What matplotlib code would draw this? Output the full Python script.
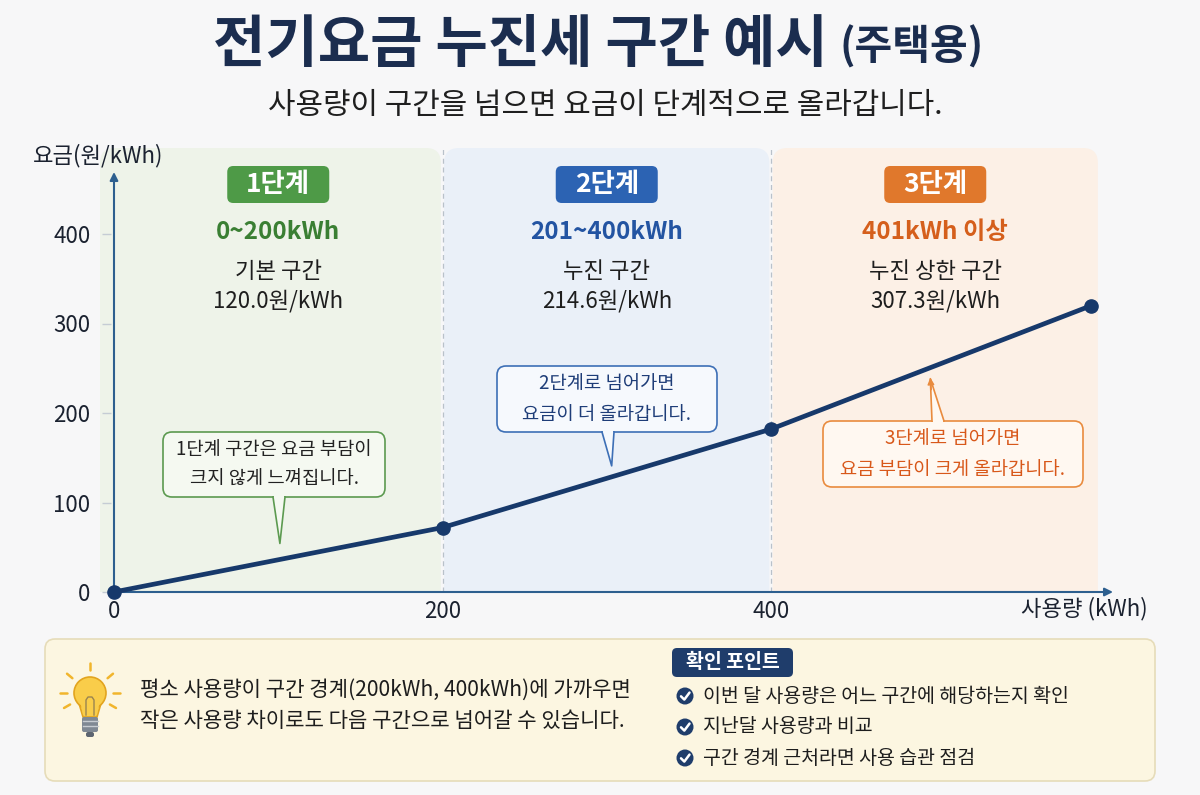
import matplotlib
matplotlib.use('Agg')
import matplotlib.pyplot as plt
from matplotlib.patches import FancyBboxPatch, Polygon, Circle, Rectangle
from matplotlib.lines import Line2D
import numpy as np

plt.rcParams['font.family'] = ['Noto Sans CJK KR', 'DejaVu Sans']

# ---------------- data ----------------
usage = [0, 200, 400, 595]          # kWh
charge = [0, 72, 182, 320]          # 요금 (illustrative)
x_ticks = [0, 200, 400]
y_ticks = [0, 100, 200, 300, 400]
tier_bounds = [0, 200, 400, 600]
tier_names = ['1단계', '2단계', '3단계']
tier_ranges = ['0~200kWh', '201~400kWh', '401kWh 이상']
tier_desc = ['기본 구간', '누진 구간', '누진 상한 구간']
tier_rates = [120.0, 214.6, 307.3]
callout_texts = ['1단계 구간은 요금 부담이\n크지 않게 느껴집니다.',
                 '2단계로 넘어가면\n요금이 더 올라갑니다.',
                 '3단계로 넘어가면\n요금 부담이 크게 올라갑니다.']
check_items = ['이번 달 사용량은 어느 구간에 해당하는지 확인',
               '지난달 사용량과 비교',
               '구간 경계 근처라면 사용 습관 점검']
tip_text = ['평소 사용량이 구간 경계(200kWh, 400kWh)에 가까우면',
            '작은 사용량 차이로도 다음 구간으로 넘어갈 수 있습니다.']

# ---------------- styles ----------------
panel_fc = ['#eef3e9', '#eaf0f8', '#fcf0e6']
badge_fc = ['#4e9a47', '#2c63b3', '#e0782c']
range_c = ['#3a7f33', '#2354a2', '#d55f1c']
call_ec = ['#5c9a50', '#3d6fb6', '#e98b3e']
call_fc = ['#f5f9f1', '#f6f9fd', '#fff8f1']
call_tc = ['#222222', '#1e3d78', '#d8581a']
navy = '#17396b'
W, H = 1200, 795

fig = plt.figure(figsize=(12, 7.95), dpi=100, facecolor='#f7f7f8')

# chart axes (pixel layout)
x0_px, x400_px = 114, 771
px_x = (x400_px - x0_px) / 400.0
px_y = (592 - 234) / 400.0
left_px, right_px, top_px, bot_px = 100, 1118, 140, 592
ax = fig.add_axes([left_px / W, (H - bot_px) / H, (right_px - left_px) / W, (bot_px - top_px) / H])
ax.set_xlim((left_px - x0_px) / px_x, (right_px - x0_px) / px_x)
ax.set_ylim(0, (bot_px - top_px) / px_y)
ax.patch.set_alpha(0)
for s in ax.spines.values():
    s.set_visible(False)

# tier panels
panel_top = (bot_px - 148) / px_y
xl = ax.get_xlim()[0]
for i in range(3):
    x0 = xl if i == 0 else tier_bounds[i] + 1.0
    x1 = tier_bounds[i + 1] - 1.0
    p = FancyBboxPatch((x0, -40), x1 - x0, panel_top + 40,
                       boxstyle='round,pad=0,rounding_size=9',
                       mutation_aspect=px_x / px_y, fc=panel_fc[i], ec='none', zorder=0)
    ax.add_patch(p)
ax.vlines(tier_bounds[1:3], 0, panel_top, colors='#b9c1ca', lw=0.9,
          linestyles=(0, (4, 3)), zorder=1)

# axes arrows
ax.annotate('', xy=(0, (592 - 172) / px_y), xytext=(0, 0),
            arrowprops=dict(arrowstyle='-|>', color='#2d5f8f', lw=1.5,
                            mutation_scale=12, shrinkA=0, shrinkB=0), zorder=2)
ax.annotate('', xy=((1113 - x0_px) / px_x, 0), xytext=(0, 0),
            arrowprops=dict(arrowstyle='-|>', color='#2d5f8f', lw=1.5,
                            mutation_scale=12, shrinkA=0, shrinkB=0), zorder=2)

ax.set_xticks(x_ticks)
ax.set_yticks(y_ticks)
ax.spines['left'].set_position(('data', -2))
ax.tick_params(axis='y', length=6.5, width=1.0, color='#c5ccd4', pad=8,
               labelsize=16, labelcolor='#1b2230')
ax.tick_params(axis='x', length=0, pad=6, labelsize=16, labelcolor='#1b2230')

ax.plot(usage, charge, color=navy, lw=3.4, marker='o', ms=9.5, zorder=5,
        solid_capstyle='round', clip_on=False)

# overlay axes in pixel coordinates
ov = fig.add_axes([0, 0, 1, 1], zorder=3)
ov.set_xlim(0, W)
ov.set_ylim(H, 0)
ov.axis('off')
ov.patch.set_alpha(0)


def d2o(x, y):
    p = ax.transData.transform((x, y))
    return p[0], H - p[1]


# titles
t1 = ov.text(213, 45, '전기요금 누진세 구간 예시', fontsize=41, weight='heavy',
             color='#1b2d4f', ha='left', va='center')
fig.canvas.draw()
bb = t1.get_window_extent()
ov.text(bb.x1 + 12, 47, '(주택용)', fontsize=29.5, weight='heavy',
        color='#1b2d4f', ha='left', va='center')
ov.text(605, 106, '사용량이 구간을 넘으면 요금이 단계적으로 올라갑니다.',
        fontsize=21.5, color='#1f1f1f', ha='center', va='center')

ov.text(33, 156, '요금(원/kWh)', fontsize=16, color='#1b2230', ha='left', va='center')
ov.text(1148, 609, '사용량 (kWh)', fontsize=16, color='#1b2230', ha='right', va='center')

# panel labels
for i in range(3):
    cx = d2o((tier_bounds[i] + tier_bounds[i + 1]) / 2, 0)[0]
    b = FancyBboxPatch((cx - 51, 166), 102, 37, boxstyle='round,pad=0,rounding_size=6',
                       fc=badge_fc[i], ec='none')
    ov.add_patch(b)
    ov.text(cx, 184.5, tier_names[i], fontsize=19, weight='bold', color='white',
            ha='center', va='center')
    ov.text(cx, 232, tier_ranges[i], fontsize=17.5, weight='bold', color=range_c[i],
            ha='center', va='center')
    ov.text(cx, 272, tier_desc[i], fontsize=16, color='#1e1e1e', ha='center', va='center')
    ov.text(cx, 301, f'{tier_rates[i]:.1f}원/kWh', fontsize=16, color='#1e1e1e',
            ha='center', va='center')


# callouts
def callout(i, x0, y0, w, h, base_x, tip, up=False):
    box = FancyBboxPatch((x0, y0), w, h, boxstyle='round,pad=0,rounding_size=9',
                         fc=call_fc[i], ec=call_ec[i], lw=1.2, zorder=4)
    ov.add_patch(box)
    by = y0 if up else y0 + h
    hw = 6
    tri = Polygon([(base_x - hw, by), (base_x + hw, by), tip], closed=True,
                  fc=call_fc[i], ec='none', zorder=5)
    ov.add_patch(tri)
    d = 1.5 if up else -1.5
    ov.add_line(Line2D([base_x - hw, tip[0], base_x + hw], [by, tip[1], by],
                       color=call_ec[i], lw=1.2, zorder=6))
    ov.add_patch(Polygon([(base_x - hw + 1, by + d), (base_x + hw - 1, by + d),
                          (base_x + hw - 1, by - d * 0.2), (base_x - hw + 1, by - d * 0.2)],
                         closed=True, fc=call_fc[i], ec='none', zorder=6))
    ov.text(x0 + w / 2, y0 + h / 2, callout_texts[i], fontsize=13.5, color=call_tc[i],
            ha='center', va='center', linespacing=1.6, zorder=7)


tx, ty = d2o(101, np.interp(101, usage, charge))
callout(0, 163, 432, 222, 65, 279, (tx, ty - 16))
tx, ty = d2o(303, np.interp(303, usage, charge))
callout(1, 497, 366, 220, 66, 608, (tx, ty - 11))
tx, ty = d2o(497, np.interp(497, usage, charge))
callout(2, 823, 421, 260, 66, 938, (tx, ty + 11), up=True)
ov.annotate('', xy=(tx, ty + 10), xytext=(tx + 1, ty + 22),
            arrowprops=dict(arrowstyle='-|>', color=call_ec[2], lw=1.0,
                            mutation_scale=10, shrinkA=0, shrinkB=0), zorder=7)

# bottom info box
ov.add_patch(FancyBboxPatch((45, 639), 1110, 142, boxstyle='round,pad=0,rounding_size=10',
                            fc='#fcf6e1', ec='#e6dcb9', lw=1.2, zorder=1))
# lightbulb
cx, cy = 90, 693
for ang in [0, 40, 90, 140, 180, -30, -150]:
    a = np.deg2rad(ang)
    r0, r1 = 23, 30
    ov.add_line(Line2D([cx + r0 * np.cos(a), cx + r1 * np.cos(a)],
                       [cy - r0 * np.sin(a), cy - r1 * np.sin(a)],
                       color='#f1b52c', lw=1.8, solid_capstyle='round', zorder=2))
ov.add_patch(Polygon([(78, 700), (102, 700), (97, 717), (83, 717)], closed=True,
                     fc='#f9cd4a', ec='#e2a41f', lw=1.2, zorder=2))
ov.add_patch(Circle((cx, cy), 16, fc='#f9cd4a', ec='#e2a41f', lw=1.2, zorder=2))
ov.add_patch(Polygon([(79.5, 698), (100.5, 698), (97, 715), (83, 715)], closed=True,
                     fc='#f9cd4a', ec='none', zorder=3))
ov.add_line(Line2D([86, 86, 88, 92, 94, 94], [715, 700, 697, 697, 700, 715],
                   color='#9a8450', lw=1.0, zorder=3))
ov.add_patch(FancyBboxPatch((82, 717), 16, 15, boxstyle='round,pad=0,rounding_size=2',
                            fc='#7f8893', ec='none', zorder=3))
for yy in [721, 726]:
    ov.add_line(Line2D([82.5, 97.5], [yy, yy], color='#c7ccd2', lw=1.0, zorder=4))
ov.add_patch(FancyBboxPatch((86, 732), 8, 5, boxstyle='round,pad=0,rounding_size=2',
                            fc='#5d6570', ec='none', zorder=3))

ov.text(140, 690, tip_text[0], fontsize=15.2, weight='medium', color='#1d1d1d',
        ha='left', va='center')
ov.text(140, 721, tip_text[1], fontsize=15.2, weight='medium', color='#1d1d1d',
        ha='left', va='center')

ov.add_patch(FancyBboxPatch((672, 648), 121, 29, boxstyle='round,pad=0,rounding_size=5',
                            fc='#1f3d6b', ec='none', zorder=2))
ov.text(732.5, 662.5, '확인 포인트', fontsize=14, weight='bold', color='white',
        ha='center', va='center', zorder=3)
for k, item in enumerate(check_items):
    yy = 696 + k * 31
    ov.add_patch(Circle((685, yy), 8.5, fc='#1f3d6b', ec='none', zorder=2))
    ov.add_line(Line2D([681, 684.3, 689.5], [yy + 0.3, yy + 3.6, yy - 3.4],
                       color='white', lw=1.8, solid_capstyle='round',
                       solid_joinstyle='round', zorder=3))
    ov.text(703, yy, item, fontsize=14, color='#1d1d1d', ha='left', va='center', zorder=3)

fig.savefig('out.png', dpi=100, facecolor=fig.get_facecolor())
